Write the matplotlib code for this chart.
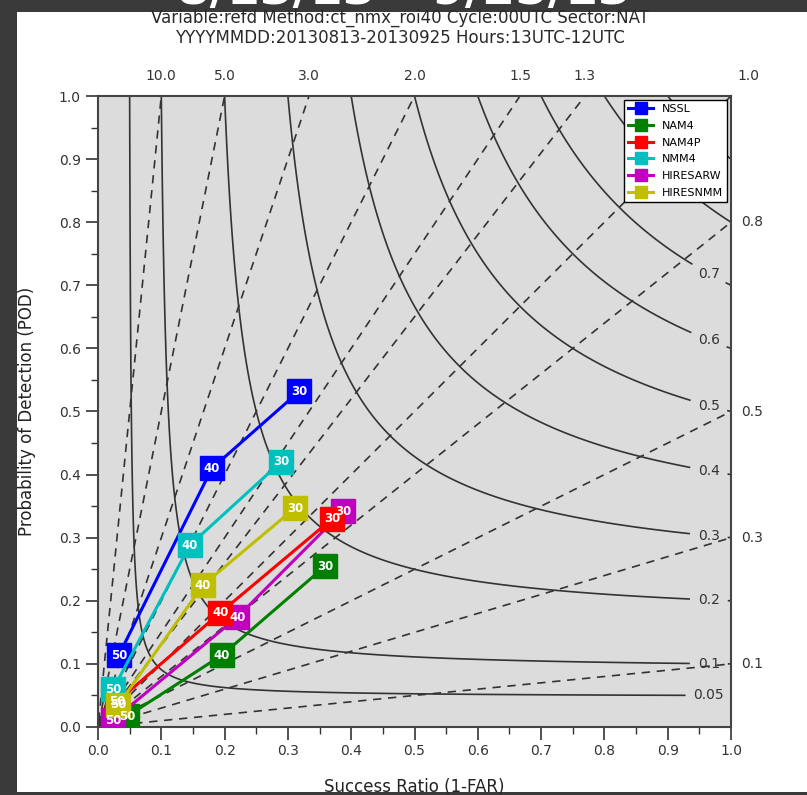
import numpy as np
import matplotlib
matplotlib.use('Agg')
import matplotlib.pyplot as plt
from matplotlib.patches import Rectangle
from matplotlib.ticker import MultipleLocator

# performance diagram: reflectivity, thresholds 50/40/30 dBZ
thresholds = ['50', '40', '30']
models = ['NSSL', 'NAM4', 'NAM4P', 'NMM4', 'HIRESARW', 'HIRESNMM']
colors = ['#0000ff', '#008000', '#ff0000', '#00bfbf', '#bf00bf', '#bfbf00']
layer = [3.0, 3.1, 3.3, 3.4, 3.2, 3.5]   # draw order of the boxes

sr_nssl = [0.033, 0.180, 0.318]
pod_nssl = [0.114, 0.410, 0.532]
sr_nam4 = [0.046, 0.196, 0.359]
pod_nam4 = [0.017, 0.114, 0.255]
sr_nam4p = [0.030, 0.193, 0.370]
pod_nam4p = [0.040, 0.181, 0.330]
sr_nmm4 = [0.024, 0.145, 0.289]
pod_nmm4 = [0.060, 0.288, 0.420]
sr_hiresarw = [0.024, 0.220, 0.387]
pod_hiresarw = [0.011, 0.174, 0.342]
sr_hiresnmm = [0.032, 0.166, 0.311]
pod_hiresnmm = [0.035, 0.225, 0.347]

sr_all = [sr_nssl, sr_nam4, sr_nam4p, sr_nmm4, sr_hiresarw, sr_hiresnmm]
pod_all = [pod_nssl, pod_nam4, pod_nam4p, pod_nmm4, pod_hiresarw, pod_hiresnmm]

csi_levels = [0.05, 0.1, 0.2, 0.3, 0.4, 0.5, 0.6, 0.7, 0.8, 0.9]
csi_labeled = [0.05, 0.1, 0.2, 0.3, 0.4, 0.5, 0.6, 0.7]
bias_levels = [0.1, 0.3, 0.5, 0.8, 1.0, 1.3, 1.5, 2.0, 3.0, 5.0, 10.0]
bias_top = [10.0, 5.0, 3.0, 2.0, 1.5, 1.3]
bias_right = [0.8, 0.5, 0.3, 0.1]

title1 = 'Variable:refd Method:ct_nmx_roi40 Cycle:00UTC Sector:NAT'
title2 = 'YYYYMMDD:20130813-20130925 Hours:13UTC-12UTC'

W, H = 807, 795
fig = plt.figure(figsize=(W / 100, H / 100), dpi=100, facecolor='#3a3a3a')
# white slide area behind the chart
fig.patches.append(Rectangle((17 / W, 3 / H), 1 - 17 / W, 1 - 15 / H,
                             transform=fig.transFigure, facecolor='white',
                             edgecolor='none', zorder=-10))
fig.text(0.5, 1 - 4 / H, '8/13/13 \u2013 9/25/13', color='white', fontsize=34,
         fontweight='bold', ha='center', va='baseline', zorder=-5)
fig.text(0.496, 1 - 18 / H, title1, ha='center', va='center', fontsize=12, color='#2a2a2a')
fig.text(0.496, 1 - 38 / H, title2, ha='center', va='center', fontsize=12, color='#2a2a2a')

ax = fig.add_axes([98 / W, 68 / H, 633 / W, 631 / H])
ax.set_facecolor('#dcdcdc')

# background grid of CSI and bias
g = np.linspace(0.001, 1.0, 600)
SR, POD = np.meshgrid(g, g)
csi = 1.0 / (1.0 / SR + 1.0 / POD - 1.0)
bias = POD / SR

cs = ax.contour(SR, POD, csi, levels=csi_levels, colors='#333333', linewidths=1.2, zorder=1)
label_pos = [(0.965, 1.0 / (1.0 / c - 1.0 / 0.965 + 1.0)) for c in csi_labeled]
labels = ax.clabel(cs, csi_labeled, fmt='%g', manual=label_pos, fontsize=10,
                   inline=True, inline_spacing=8)
for t in labels:
    t.set_rotation(0)
bs = ax.contour(SR, POD, bias, levels=bias_levels, colors='#333333', linewidths=1.2,
                linestyles=[(0, (5, 4))], zorder=1)

for b in bias_top:
    ax.text(1.0 / b, 1.032, f'{b:.1f}', ha='center', va='center', fontsize=10,
            color='#333333', clip_on=False)
ax.text(1.027, 1.032, '1.0', ha='center', va='center', fontsize=10, color='#333333', clip_on=False)
for b in bias_right:
    ax.text(1.033, b, f'{b:.1f}', ha='center', va='center', fontsize=10,
            color='#333333', clip_on=False)

# model points, threshold labels on top of all boxes
for name, col, sr, pod, z in zip(models, colors, sr_all, pod_all, layer):
    ax.plot(sr, pod, '-s', color=col, lw=2.2, ms=17, mec=col, label=name, zorder=z)
    for x, y, t in zip(sr, pod, thresholds):
        ax.text(x, y, t, color='white', fontsize=8.5, fontweight='bold',
                ha='center', va='center', zorder=5)

ax.set_xlim(0, 1)
ax.set_ylim(0, 1)
ax.xaxis.set_major_locator(MultipleLocator(0.1))
ax.xaxis.set_minor_locator(MultipleLocator(0.05))
ax.yaxis.set_major_locator(MultipleLocator(0.1))
ax.yaxis.set_minor_locator(MultipleLocator(0.05))
ax.tick_params(which='major', direction='out', length=9, width=1.2, color='#333333',
               labelsize=10, labelcolor='#333333')
ax.tick_params(which='minor', direction='out', length=5, width=1.0, color='#333333')
for s in ax.spines.values():
    s.set_color('#444444')
    s.set_linewidth(1.5)

ax.set_xlabel('Success Ratio (1-FAR)', fontsize=12, color='#222222', labelpad=14)
ax.set_ylabel('Probability of Detection (POD)', fontsize=12, color='#222222', labelpad=16)

leg = ax.legend(loc='upper right', bbox_to_anchor=(0.994, 0.994), borderaxespad=0,
                fontsize=8, markerscale=0.55, handlelength=2.2, framealpha=1,
                fancybox=False, edgecolor='black', labelspacing=0.6)
leg.set_zorder(10)

fig.savefig('out.png', dpi=100, facecolor=fig.get_facecolor())
